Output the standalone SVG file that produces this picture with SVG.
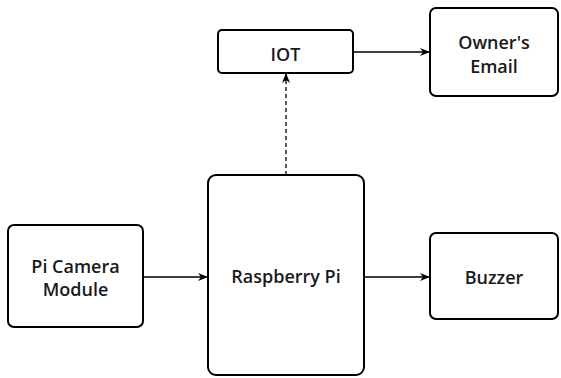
<svg xmlns="http://www.w3.org/2000/svg" width="561" height="378" viewBox="0 0 561 378">
<style>
.box{fill:#fff;stroke:#000;stroke-width:2}
.lbl{font-family:"Open Sans","DejaVu Sans",sans-serif;font-weight:600;font-size:18px;fill:#1a1a1a;text-anchor:middle}
.edge{fill:none;stroke:#000;stroke-width:1.3}
</style>
<defs>
<marker id="arr" viewBox="0 0 10 10" refX="9" refY="5" markerWidth="10" markerHeight="10" markerUnits="userSpaceOnUse" orient="auto">
<path d="M0,1 L10,5 L0,9 L3,5 Z" fill="#000"/>
</marker>
</defs>
<rect width="561" height="378" fill="#fff"/>
<g id="connectors">
<line class="edge" x1="143" y1="277" x2="207" y2="277" marker-end="url(#arr)"/>
<line class="edge" x1="364" y1="277" x2="429" y2="277" marker-end="url(#arr)"/>
<line class="edge" x1="353" y1="52" x2="429" y2="52" marker-end="url(#arr)"/>
<line class="edge" x1="286" y1="175" x2="286" y2="74" stroke-dasharray="4,3" marker-end="url(#arr)"/>
</g>
<g id="camera">
<rect class="box" x="8" y="225" width="135" height="102" rx="6"/>
<text class="lbl" x="75.5" y="273">Pi Camera</text>
<text class="lbl" x="75.5" y="296">Module</text>
</g>
<g id="raspberry">
<rect class="box" x="208" y="175" width="156" height="200" rx="8"/>
<text class="lbl" x="286" y="283">Raspberry Pi</text>
</g>
<g id="buzzer">
<rect class="box" x="430" y="233" width="128" height="86" rx="6"/>
<text class="lbl" x="494" y="284">Buzzer</text>
</g>
<g id="iot">
<rect class="box" x="218" y="30" width="135" height="43" rx="4"/>
<text class="lbl" x="285.5" y="61">IOT</text>
</g>
<g id="email">
<rect class="box" x="430" y="8" width="128" height="88" rx="6"/>
<text class="lbl" x="494" y="49">Owner's</text>
<text class="lbl" x="494" y="72.5">Email</text>
</g>
</svg>
